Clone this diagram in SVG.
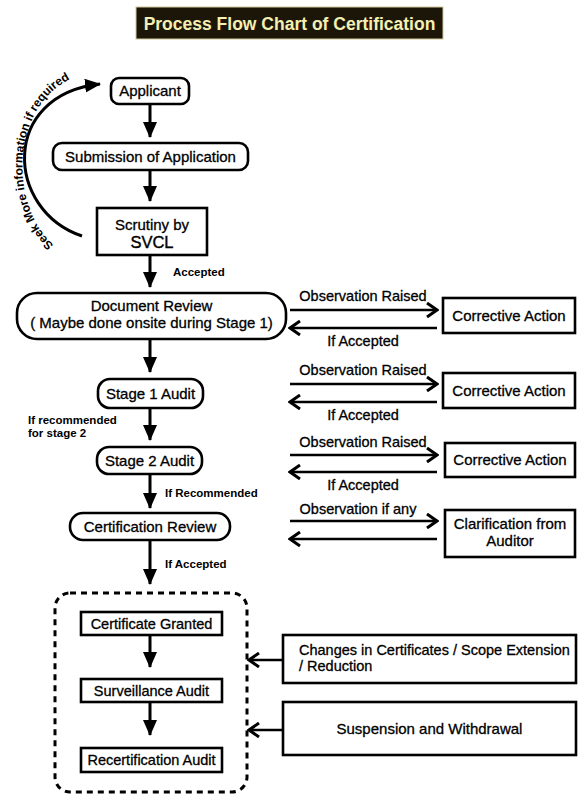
<svg xmlns="http://www.w3.org/2000/svg" width="578" height="801" viewBox="0 0 578 801">
<style>
text{font-family:"Liberation Sans",Arial,sans-serif;fill:#000}
.t{font-size:15px;stroke:#000;stroke-width:0.3}
.m{font-size:14.5px;stroke:#000;stroke-width:0.3}
.c{text-anchor:middle}
.s{font-size:11.5px;font-weight:bold}
.b{fill:#fff;stroke:#000;stroke-width:2.6}
.ln{fill:none;stroke:#000;stroke-width:3}
.sd{fill:none;stroke:#000;stroke-width:2.6}
</style>
<defs>
<marker id="fa" markerUnits="userSpaceOnUse" viewBox="0 0 16 14" markerWidth="16" markerHeight="14" refX="15" refY="7" orient="auto"><path d="M0 0 L16 7 L0 14 z" fill="#000"/></marker>
<marker id="ch" markerUnits="userSpaceOnUse" viewBox="0 0 14 16" markerWidth="14" markerHeight="16" refX="12" refY="8" orient="auto"><path d="M2 1 L12 8 L2 15" fill="none" stroke="#000" stroke-width="3"/></marker>
<path id="curveText" d="M72 256 C 6 230, 0 92, 90 72"/>
</defs>
<rect width="578" height="801" fill="#fff"/>

<g id="title">
<rect x="136" y="7" width="307" height="32" fill="#1c1608" stroke="#cfc79a" stroke-width="1"/>
<text x="289.5" y="29.5" class="c" style="font-size:17.5px;font-weight:bold;fill:#f4efb2">Process Flow Chart of Certification</text>
</g>

<g id="connectors">
<path class="ln" d="M150 104 V137" marker-end="url(#fa)"/>
<path class="ln" d="M150 170 V201" marker-end="url(#fa)"/>
<path class="ln" d="M150 255 V287" marker-end="url(#fa)"/>
<path class="ln" d="M150 339 V372" marker-end="url(#fa)"/>
<path class="ln" d="M150 408 V440" marker-end="url(#fa)"/>
<path class="ln" d="M150 474 V508" marker-end="url(#fa)"/>
<path class="ln" d="M150 540 V584" marker-end="url(#fa)"/>
<path class="ln" d="M150 635 V667" marker-end="url(#fa)"/>
<path class="ln" d="M150 702 V735" marker-end="url(#fa)"/>
<path class="ln" d="M82 236 C 5 210, 0 95, 100 84" marker-end="url(#fa)"/>
<path class="sd" d="M290 310 H437" marker-end="url(#ch)"/>
<path class="sd" d="M437 328 H290" marker-end="url(#ch)"/>
<path class="sd" d="M290 384 H437" marker-end="url(#ch)"/>
<path class="sd" d="M437 402 H290" marker-end="url(#ch)"/>
<path class="sd" d="M290 455 H437" marker-end="url(#ch)"/>
<path class="sd" d="M437 472 H290" marker-end="url(#ch)"/>
<path class="sd" d="M290 521 H437" marker-end="url(#ch)"/>
<path class="sd" d="M437 539 H290" marker-end="url(#ch)"/>
<path class="sd" d="M283 660 H249" marker-end="url(#ch)"/>
<path class="sd" d="M283 730 H249" marker-end="url(#ch)"/>
<text style="font-size:12px;font-weight:bold"><textPath href="#curveText" startOffset="50%" text-anchor="middle">Seek More information if required</textPath></text>
<text x="173" y="276" class="s">Accepted</text>
<text x="28" y="424" class="s">If recommended</text>
<text x="28" y="437" class="s">for stage 2</text>
<text x="165" y="497" class="s">If Recommended</text>
<text x="165" y="568" class="s">If Accepted</text>
<text x="363" y="301" class="m c">Observation Raised</text>
<text x="363" y="346" class="m c">If Accepted</text>
<text x="363" y="375" class="m c">Observation Raised</text>
<text x="363" y="420" class="m c">If Accepted</text>
<text x="363" y="447" class="m c">Observation Raised</text>
<text x="363" y="490" class="m c">If Accepted</text>
<text x="358" y="514" class="m c">Observation if any</text>
</g>

<g id="applicant">
<rect class="b" x="111" y="78" width="78" height="26" rx="8"/>
<text x="150" y="96" class="t c">Applicant</text>
</g>
<g id="submission">
<rect class="b" x="53" y="143" width="195" height="27" rx="9"/>
<text x="150.5" y="162" class="t c">Submission of Application</text>
</g>
<g id="scrutiny">
<rect class="b" x="97" y="208" width="110" height="47"/>
<text x="152" y="230" class="t c">Scrutiny by</text>
<text x="152" y="248" class="c" style="font-size:16.5px;stroke:#000;stroke-width:0.4">SVCL</text>
</g>
<g id="document-review">
<rect class="b" x="17" y="293" width="269" height="46" rx="20"/>
<text x="151.5" y="311" class="t c">Document Review</text>
<text x="151.5" y="328" class="t c">( Maybe done onsite during Stage 1)</text>
</g>
<g id="stage1">
<rect class="b" x="98" y="379" width="105" height="29" rx="12"/>
<text x="150.5" y="399" class="t c">Stage 1 Audit</text>
</g>
<g id="stage2">
<rect class="b" x="97" y="447" width="105" height="27" rx="12"/>
<text x="149.5" y="466" class="t c">Stage 2 Audit</text>
</g>
<g id="certification-review">
<rect class="b" x="70" y="513" width="160" height="27" rx="13"/>
<text x="150" y="532" class="t c">Certification Review</text>
</g>
<g id="ca1">
<rect class="b" x="443" y="298" width="132" height="35"/>
<text x="509" y="321" class="t c">Corrective Action</text>
</g>
<g id="ca2">
<rect class="b" x="443" y="373" width="132" height="35"/>
<text x="509" y="396" class="t c">Corrective Action</text>
</g>
<g id="ca3">
<rect class="b" x="445" y="443" width="130" height="34"/>
<text x="510" y="465" class="t c">Corrective Action</text>
</g>
<g id="clarification">
<rect class="b" x="445" y="510" width="130" height="47"/>
<text x="510" y="529" class="t c">Clarification from</text>
<text x="510" y="546" class="t c">Auditor</text>
</g>
<g id="certificate-group">
<rect x="55" y="593" width="192" height="199" rx="15" fill="none" stroke="#000" stroke-width="3" stroke-dasharray="6 5"/>
</g>
<g id="certificate-granted">
<rect class="b" x="81" y="612" width="141" height="23"/>
<text x="151.5" y="629" class="m c">Certificate Granted</text>
</g>
<g id="surveillance">
<rect class="b" x="81" y="679" width="141" height="23"/>
<text x="151.5" y="696" class="m c">Surveillance Audit</text>
</g>
<g id="recertification">
<rect class="b" x="81" y="748" width="141" height="24"/>
<text x="151.5" y="765" class="m c">Recertification Audit</text>
</g>
<g id="changes">
<rect class="b" x="283" y="635" width="293" height="48"/>
<text x="299" y="655" class="m">Changes in Certificates / Scope Extension</text>
<text x="299" y="671" class="m">/ Reduction</text>
</g>
<g id="suspension">
<rect class="b" x="283" y="702" width="293" height="53"/>
<text x="429.5" y="734" class="t c">Suspension and Withdrawal</text>
</g>
</svg>
